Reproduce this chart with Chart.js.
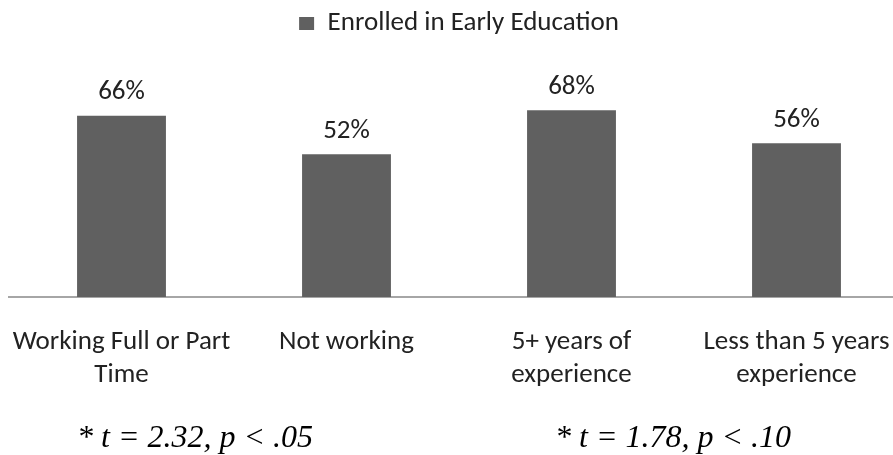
<!DOCTYPE html>
<html>
<head>
<meta charset="utf-8">
<script src="https://cdn.jsdelivr.net/npm/chart.js@4/dist/chart.umd.min.js"></script>
<style>
  html, body { margin: 0; padding: 0; background: #fff; overflow: hidden; }
  #wrap { width: 920px; height: 455px; }
</style>
</head>
<body>
<div id="wrap"><canvas id="myChart" width="920" height="455"></canvas></div>
<script>
// data
const categorias = [["Working Full or Part", "Time"], "Not working", ["5+ years of", "experience"], ["Less than 5 years", "experience"]]
const serieNome = "Enrolled in Early Education"
const inscritos = [66, 52, 68, 56]
const notas = ["* t = 2.32, p < .05", "* t = 1.78, p < .10"]

const fonteSans = "Carlito, Lato, sans-serif"
const corBarra = "#606060"
const corTexto = "#222222"

// value labels above each bar + the t-test notes under the chart
let rotulos = {
    id: "rotulos",
    afterDatasetsDraw(chart) {
        let ctx = chart.ctx
        ctx.save()
        ctx.fillStyle = corTexto
        ctx.font = "27px " + fonteSans
        ctx.textAlign = "center"
        ctx.textBaseline = "middle"
        chart.getDatasetMeta(0).data.forEach((bar, i) => {
            ctx.fillText(inscritos[i] + "%", bar.x, bar.y - 23)
        })
        ctx.fillStyle = "#000"
        ctx.font = "italic 32px 'Liberation Serif', 'Times New Roman', serif"
        ctx.textAlign = "left"
        ctx.textBaseline = "alphabetic"
        let xs = [77, 555]
        notas.forEach((n, i) => ctx.fillText(n, xs[i], 447))
        ctx.restore()
    }
}

let ctx = document.getElementById("myChart")
let meuGrafico = new Chart(ctx, {
    type: "bar",
    data: {
        labels: categorias,
        datasets: [{
            label: serieNome,
            data: inscritos,
            backgroundColor: corBarra,
            borderWidth: 0,
            barPercentage: 0.395,
            categoryPercentage: 1,
        }],
    },
    options: {
        responsive: false,
        animation: false,
        devicePixelRatio: 1,
        layout: { padding: { left: 9, right: 11, top: 0, bottom: 0 } },
        plugins: {
            legend: {
                position: "top",
                labels: {
                    boxWidth: 15,
                    boxHeight: 13,
                    padding: 10,
                    color: corTexto,
                    font: { family: fonteSans, size: 27 },
                },
            },
            tooltip: { enabled: false },
        },
        scales: {
            x: {
                grid: { display: false },
                border: { display: true, color: "#a6a6a6", width: 2 },
                ticks: {
                    color: corTexto,
                    padding: 21,
                    maxRotation: 0,
                    autoSkip: false,
                    font: { family: fonteSans, size: 27, lineHeight: 1.22 },
                },
                afterFit(scale) {
                    scale.height = 158
                    scale.paddingLeft = 0
                    scale.paddingRight = 0
                },
            },
            y: {
                display: false,
                min: 0,
                max: 91,
            },
        },
    },
    plugins: [rotulos],
})
</script>
</body>
</html>
